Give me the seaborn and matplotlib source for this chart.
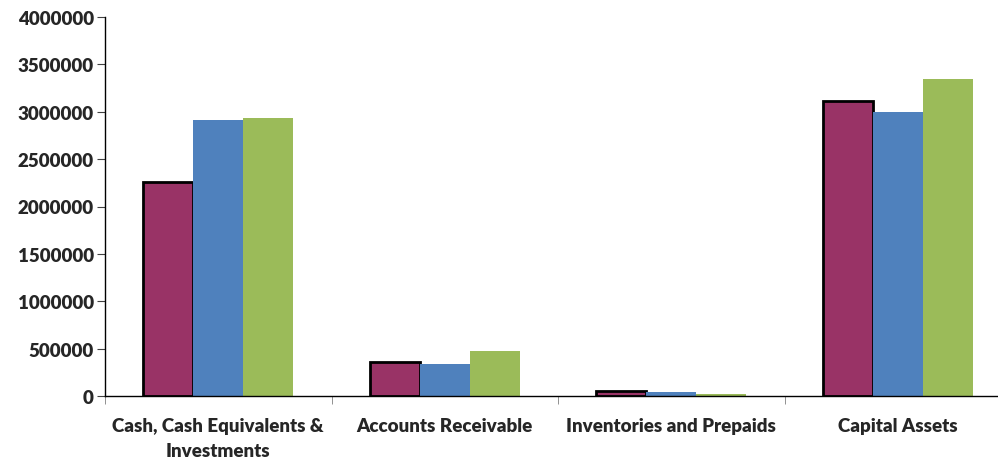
import pandas as pd
import seaborn as sns
import matplotlib.pyplot as plt
from matplotlib.ticker import FixedLocator

categories = ['Cash, Cash Equivalents &\nInvestments', 'Accounts Receivable',
              'Inventories and Prepaids', 'Capital Assets']
series_names = ['Series A', 'Series B', 'Series C']
series_a = [2260000, 355000, 50000, 3110000]
series_b = [2910000, 335000, 45000, 3000000]
series_c = [2930000, 475000, 20000, 3350000]
colors = ['#993366', '#4f81bd', '#9bbb59']

df = pd.DataFrame({
    'category': categories * 3,
    'series': [s for s in series_names for _ in categories],
    'value': series_a + series_b + series_c,
})

sns.set_style('white')
plt.rcParams['font.family'] = ['Lato', 'DejaVu Sans']
plt.rcParams['font.weight'] = 'heavy'

fig = plt.figure(figsize=(9.98, 4.6), dpi=100)
ax = fig.add_axes([105 / 998, 1 - 397 / 460, 906 / 998, 379 / 460])

sns.barplot(data=df, x='category', y='value', hue='series', palette=colors,
            width=0.662, saturation=1, ax=ax, legend=False)

# only the first series gets a black outline
for bar in ax.containers[0]:
    bar.set_edgecolor('black')
    bar.set_linewidth(2)
for c in ax.containers[1:]:
    for bar in c:
        bar.set_linewidth(0)

ax.set_xlim(-0.5, 3.5)
ax.set_ylim(0, 4000000)
ax.set_yticks(range(0, 4000001, 500000))
ax.set_yticklabels([str(v) for v in range(0, 4000001, 500000)], fontsize=13.5, fontweight='heavy')
ax.set_xticks(range(4))
ax.set_xticklabels(categories, fontsize=13.5, fontweight='heavy', linespacing=1.55)
ax.tick_params(axis='x', length=0, pad=15)
ax.xaxis.set_minor_locator(FixedLocator([-0.5, 0.5, 1.5, 2.5, 3.5]))
ax.tick_params(axis='x', which='minor', length=6, color='#808080', direction='out', bottom=True)
ax.tick_params(axis='y', length=6, color='#404040', direction='out', left=True, pad=2)
ax.set_xlabel('')
ax.set_ylabel('')

for side in ['top', 'right']:
    ax.spines[side].set_visible(False)
ax.spines['left'].set_color('black')
ax.spines['bottom'].set_color('black')
ax.spines['left'].set_linewidth(1)
ax.spines['bottom'].set_linewidth(1)

fig.savefig('out.png', dpi=100)
